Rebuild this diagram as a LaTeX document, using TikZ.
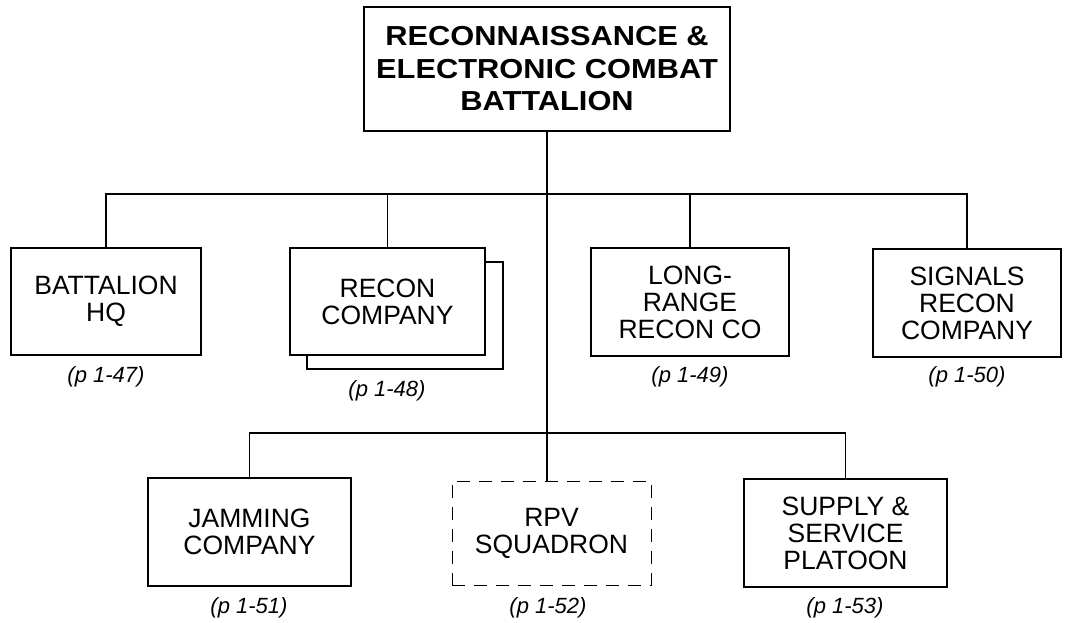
\documentclass[tikz,border=0pt]{standalone}
\usepackage{fontspec}
\setmainfont{Liberation Sans}
\newfontfamily\topfont[FakeStretch=1.12]{Liberation Sans}
\begin{document}
\begin{tikzpicture}[x=1pt,y=-1pt,
  unit/.style={draw, line width=1.8pt, align=center, inner sep=0pt,
    font=\fontsize{26.5}{27}\selectfont, fill=white},
  rpvbox/.style={draw, line width=0.8pt, dash pattern=on 13pt off 9pt,
    align=center, inner sep=0pt, font=\fontsize{26.5}{27}\selectfont},
  topbox/.style={draw, line width=1.8pt, align=center, inner sep=0pt,
    font=\topfont\bfseries\fontsize{27.5}{32.5}\selectfont},
  pageref/.style={font=\fontsize{22}{24}\selectfont\itshape, inner sep=0pt},
  conn/.style={line width=1.5pt}]
\useasboundingbox (0,0) rectangle (1089,623);

% top
\node[topbox, minimum width=366pt, minimum height=124pt] (top) at (547,69)
  {RECONNAISSANCE \&\\ELECTRONIC COMBAT\\BATTALION};

% row 1
\node[unit, minimum width=190pt, minimum height=107pt] (hq) at (106,301.5) {BATTALION\\HQ};
\node[draw, line width=1.8pt, minimum width=196pt, minimum height=107pt, inner sep=0pt] (reconback) at (405,315.5) {};
\node[unit, minimum width=195pt, minimum height=107pt] (recon) at (387.5,301.5) {RECON\\COMPANY};
\node[unit, minimum width=198pt, minimum height=108pt] (lrr) at (690,302) {LONG-\\RANGE\\RECON CO};
\node[unit, minimum width=188pt, minimum height=108pt] (sig) at (967,303) {SIGNALS\\RECON\\COMPANY};

\node[pageref] (p47) at (106,377) {(p 1-47)};
\node[pageref] (p48) at (387,391) {(p 1-48)};
\node[pageref] (p49) at (690,377) {(p 1-49)};
\node[pageref] (p50) at (967,377) {(p 1-50)};

% row 2
\node[unit, minimum width=203pt, minimum height=108pt] (jam) at (249.5,532) {JAMMING\\COMPANY};
\node[rpvbox, minimum width=199pt, minimum height=104pt] (rpv) at (551.5,533) {RPV\\SQUADRON};
\node[unit, minimum width=203pt, minimum height=108pt] (sup) at (845.5,533) {SUPPLY \&\\SERVICE\\PLATOON};

\node[pageref] (p51) at (249,608) {(p 1-51)};
\node[pageref] (p52) at (548,608) {(p 1-52)};
\node[pageref] (p53) at (845,608) {(p 1-53)};

% bus coordinates
\coordinate (bus1) at (547,194);
\coordinate (bus2) at (547,433);

% connectors
\draw[conn] (top.south) -- (top.south |- rpv.north);
\draw[conn] (hq.north) -- (hq.north |- bus1) -- (sig.north |- bus1) -- (sig.north);
\draw[conn] (recon.north) -- (recon.north |- bus1);
\draw[conn] (lrr.north) -- (lrr.north |- bus1);
\draw[conn] (jam.north) -- (jam.north |- bus2) -- (sup.north |- bus2) -- (sup.north);
\end{tikzpicture}
\end{document}
